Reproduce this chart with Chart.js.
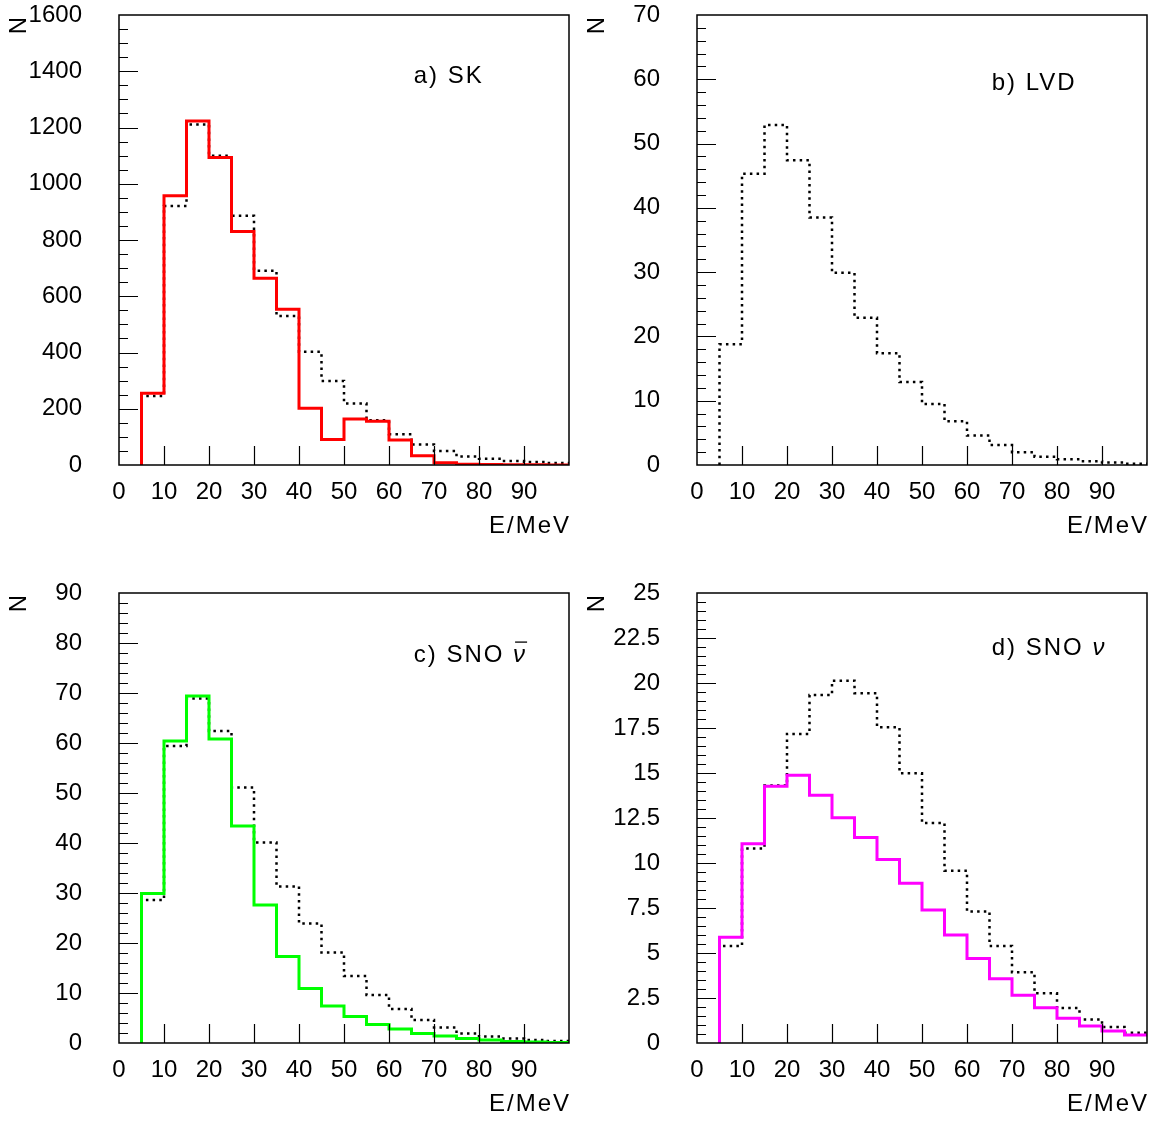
<!DOCTYPE html>
<html>
<head>
<meta charset="utf-8">
<script src="https://cdn.jsdelivr.net/npm/chart.js@4.4.0/dist/chart.umd.min.js"></script>
<style>
  body { margin: 0; background: #fff; width: 1154px; height: 1125px; position: relative; overflow: hidden; }
  canvas { position: absolute; }
</style>
</head>
<body>
<canvas id="visual-sk" width="577" height="547" style="left:0px;top:0px"></canvas>
<canvas id="visual-lvd" width="577" height="547" style="left:578px;top:0px"></canvas>
<canvas id="visual-snoanti" width="577" height="547" style="left:0px;top:578px"></canvas>
<canvas id="visual-snonu" width="577" height="547" style="left:578px;top:578px"></canvas>
<script>
// lower edges of the 5 MeV energy bins (last bin is 95-100)
const binEdges = [5, 10, 15, 20, 25, 30, 35, 40, 45, 50, 55, 60, 65, 70, 75, 80, 85, 90, 95];
const binWidth = 5;

// a) SK  (solid red + dotted black)
const skSolid  = [255, 957, 1223, 1093, 830, 664, 554, 202, 91, 164, 156, 89, 33, 8, 3, 2, 1, 1, 0];
const skDotted = [245, 921, 1211, 1100, 886, 691, 530, 403, 299, 219, 159, 109, 73, 50, 30, 22, 14, 11, 7];

// b) LVD (dotted only)
const lvdDotted = [18.8, 45.3, 52.9, 47.4, 38.5, 29.9, 22.9, 17.4, 12.9, 9.5, 6.8, 4.6, 3.1, 2.0, 1.3, 0.9, 0.6, 0.4, 0.2];

// c) SNO anti-nu (solid green + dotted black)
const snoAntiSolid  = [29.9, 60.4, 69.4, 60.8, 43.4, 27.6, 17.3, 10.9, 7.4, 5.3, 3.7, 2.8, 1.9, 1.4, 0.9, 0.6, 0.3, 0.2, 0.1];
const snoAntiDotted = [28.6, 59.4, 68.9, 62.4, 51.1, 40.1, 31.3, 23.9, 18.1, 13.4, 9.6, 6.8, 4.6, 3.1, 1.9, 1.3, 0.9, 0.6, 0.4];

// d) SNO nu (solid magenta + dotted black)
const snoNuSolid  = [5.87, 11.07, 14.26, 14.87, 13.76, 12.52, 11.41, 10.2, 8.87, 7.39, 6.0, 4.7, 3.57, 2.65, 1.96, 1.37, 0.94, 0.67, 0.44];
const snoNuDotted = [5.39, 10.8, 14.3, 17.17, 19.33, 20.13, 19.43, 17.54, 14.98, 12.22, 9.57, 7.3, 5.39, 3.93, 2.76, 1.94, 1.31, 0.89, 0.57];

// x tick labels (0..90, nothing printed at 100)
const xTickLabels = [0, 10, 20, 30, 40, 50, 60, 70, 80, 90];

const FONT = "'Liberation Sans', Arial, sans-serif";

// turn bin contents into step points: rise from 0 at first edge, flat to the last edge
function histPoints(values) {
  const pts = [{x: binEdges[0], y: 0}];
  for (let i = 0; i < values.length; i++) {
    pts.push({x: binEdges[i], y: values[i]});
  }
  pts.push({x: binEdges[binEdges.length - 1] + binWidth, y: values[values.length - 1]});
  return pts;
}

function solidSet(values, color) {
  return {
    data: histPoints(values),
    borderColor: color,
    borderWidth: 3,
    stepped: 'before',
    pointRadius: 0,
    fill: false
  };
}

function dottedSet(values) {
  return {
    data: histPoints(values),
    borderColor: '#000',
    borderWidth: 2.5,
    borderDash: [2.5, 4.2],
    stepped: 'before',
    pointRadius: 0,
    fill: false
  };
}

// box around the plot, inward tick marks and the texts (N, E/MeV, panel label)
const framePlugin = {
  id: 'frame',
  afterDraw(chart) {
    const o = chart.options.plugins.frame;
    const ctx = chart.ctx;
    const a = chart.chartArea;
    const xs = chart.scales.x;
    const ys = chart.scales.y;
    ctx.save();
    ctx.strokeStyle = '#000';
    ctx.lineWidth = 1.5;
    ctx.strokeRect(a.left, a.top, a.right - a.left, a.bottom - a.top);

    ctx.beginPath();
    xTickLabels.forEach(function(v) {
      if (v === 0) return;
      const px = Math.round(xs.getPixelForValue(v)) + 0.5;
      ctx.moveTo(px, a.bottom);
      ctx.lineTo(px, a.bottom - 19);
    });
    const nMinor = Math.round(o.yMax / o.minor);
    const perMajor = Math.round(o.major / o.minor);
    for (let i = 1; i < nMinor; i++) {
      const py = Math.round(ys.getPixelForValue(i * o.minor)) + 0.5;
      const len = (i % perMajor === 0) ? 19 : 9;
      ctx.moveTo(a.left, py);
      ctx.lineTo(a.left + len, py);
    }
    ctx.lineWidth = 1.2;
    ctx.stroke();

    ctx.fillStyle = '#000';
    ctx.letterSpacing = '2px';
    ctx.font = '24px ' + FONT;
    ctx.textBaseline = 'middle';

    // panel label
    ctx.textAlign = 'left';
    const lx = a.left + o.labelX * (a.right - a.left);
    const ly = a.top + o.labelY * (a.bottom - a.top);
    ctx.fillText(o.label, lx, ly);
    if (o.nu) {
      const w = ctx.measureText(o.label).width;
      ctx.font = 'italic 24px ' + FONT;
      ctx.fillText('\u03bd', lx + w, ly);
      const nw = ctx.measureText('\u03bd').width;
      if (o.nu === 'bar') {
        ctx.beginPath();
        ctx.moveTo(lx + w + 2, ly - 13);
        ctx.lineTo(lx + w + nw, ly - 13);
        ctx.lineWidth = 1.3;
        ctx.stroke();
      }
      ctx.font = '24px ' + FONT;
    }

    // x axis title
    ctx.textAlign = 'right';
    ctx.fillText('E/MeV', a.right + 2, a.bottom + 61);

    // y axis title, rotated
    ctx.save();
    ctx.translate(19, a.top);
    ctx.rotate(-Math.PI / 2);
    ctx.textAlign = 'right';
    ctx.fillText('N', 0, 0);
    ctx.restore();

    ctx.restore();
  }
};

function makeChart(id, datasets, yMax, major, minor, label, labelX, labelY, nu) {
  const config = {
    type: 'line',
    data: { datasets: datasets },
    options: {
      responsive: false,
      animation: false,
      devicePixelRatio: 1,
      layout: { padding: { left: 0, top: 15, right: 8, bottom: 0 } },
      plugins: {
        legend: { display: false },
        tooltip: { enabled: false },
        frame: { yMax: yMax, major: major, minor: minor, label: label, labelX: labelX, labelY: labelY, nu: nu }
      },
      scales: {
        x: {
          type: 'linear',
          min: 0,
          max: 100,
          grid: { display: false, drawTicks: false },
          border: { display: false },
          afterFit: function(scale) {
            scale.height = 82;
            scale.paddingLeft = 0;
            scale.paddingRight = 0;
          },
          ticks: {
            stepSize: 10,
            padding: 13,
            color: '#000',
            maxRotation: 0,
            autoSkip: false,
            font: { family: FONT, size: 24 },
            callback: function(v) { return xTickLabels.indexOf(v) >= 0 ? String(v) : ''; }
          }
        },
        y: {
          type: 'linear',
          min: 0,
          max: yMax,
          grid: { display: false, drawTicks: false },
          border: { display: false },
          afterFit: function(scale) {
            scale.width = 119;
            scale.paddingTop = 0;
            scale.paddingBottom = 0;
          },
          ticks: {
            stepSize: major,
            padding: 37,
            color: '#000',
            autoSkip: false,
            font: { family: FONT, size: 24 },
            callback: function(v) { return String(v); }
          }
        }
      }
    },
    plugins: [framePlugin]
  };
  return new Chart(document.getElementById(id), config);
}

makeChart('visual-sk',
  [solidSet(skSolid, '#ff0000'), dottedSet(skDotted)],
  1600, 200, 50, 'a) SK', 0.655, 0.136, null);

makeChart('visual-lvd',
  [dottedSet(lvdDotted)],
  70, 10, 2, 'b) LVD', 0.655, 0.151, null);

makeChart('visual-snoanti',
  [solidSet(snoAntiSolid, '#00ff00'), dottedSet(snoAntiDotted)],
  90, 10, 2, 'c) SNO ', 0.655, 0.138, 'bar');

makeChart('visual-snonu',
  [solidSet(snoNuSolid, '#ff00ff'), dottedSet(snoNuDotted)],
  25, 2.5, 0.5, 'd) SNO ', 0.655, 0.122, 'plain');
</script>
</body>
</html>
